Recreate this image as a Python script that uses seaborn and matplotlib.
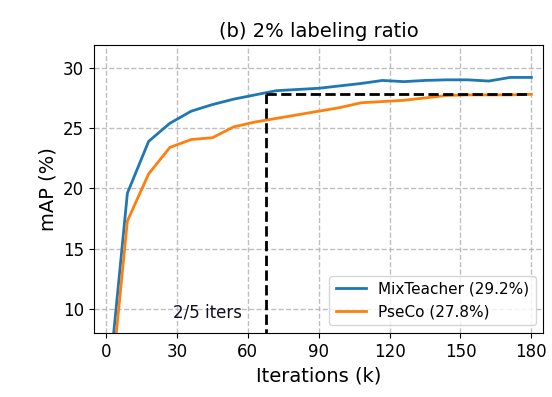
import matplotlib
matplotlib.use('Agg')
import matplotlib.pyplot as plt
import seaborn as sns
import pandas as pd

# Evaluation points (k iterations)
iters = [1, 9, 18, 27, 36, 45, 54, 63, 72, 81, 90, 99, 108, 117, 126, 135, 144, 153, 162, 171, 180]
mixteacher = [3.6, 19.6, 23.9, 25.4, 26.4, 26.95, 27.4, 27.75, 28.1, 28.2, 28.3, 28.5, 28.7,
              28.95, 28.85, 28.95, 29.0, 29.0, 28.9, 29.2, 29.2]
pseco = [1.4, 17.3, 21.2, 23.4, 24.05, 24.2, 25.1, 25.5, 25.8, 26.1, 26.4, 26.7, 27.1,
         27.2, 27.3, 27.5, 27.7, 27.75, 27.75, 27.75, 27.8]
labels = ['MixTeacher (29.2%)', 'PseCo (27.8%)']
match_iter = 67.5
match_map = 27.8

df = pd.concat([
    pd.DataFrame({'Iterations': iters, 'mAP': mixteacher, 'Method': labels[0]}),
    pd.DataFrame({'Iterations': iters, 'mAP': pseco, 'Method': labels[1]}),
])

fig = plt.figure(figsize=(5.52, 3.97), dpi=100)
ax = fig.add_axes([0.170, 0.161, 0.814, 0.726])

sns.lineplot(data=df, x='Iterations', y='mAP', hue='Method',
             palette=['#1f77b4', '#ff7f0e'], linewidth=2, ax=ax)

# Dashed guide lines
ax.plot([match_iter, match_iter], [0, match_map], color='black', linestyle='--', linewidth=2)
ax.plot([match_iter, 180], [match_map, match_map], color='black', linestyle='--', linewidth=2)
ax.text(28.5, 9.3, '2/5 iters', fontsize=12, color='#111122', fontweight='medium')

ax.set_xlim(-5.2, 185)
ax.set_ylim(8, 31.9)
ax.set_xticks([0, 30, 60, 90, 120, 150, 180])
ax.set_yticks([10, 15, 20, 25, 30])
ax.tick_params(labelsize=12)
ax.grid(True, linestyle='--', linewidth=1, color='#b0b0b0', alpha=0.8)

ax.set_title('(b) 2% labeling ratio', fontsize=14)
ax.set_xlabel('Iterations (k)', fontsize=14)
ax.set_ylabel('mAP (%)', fontsize=14)
ax.legend(loc='lower right', fontsize=11, title=None)

plt.savefig('out.png', dpi=100)
